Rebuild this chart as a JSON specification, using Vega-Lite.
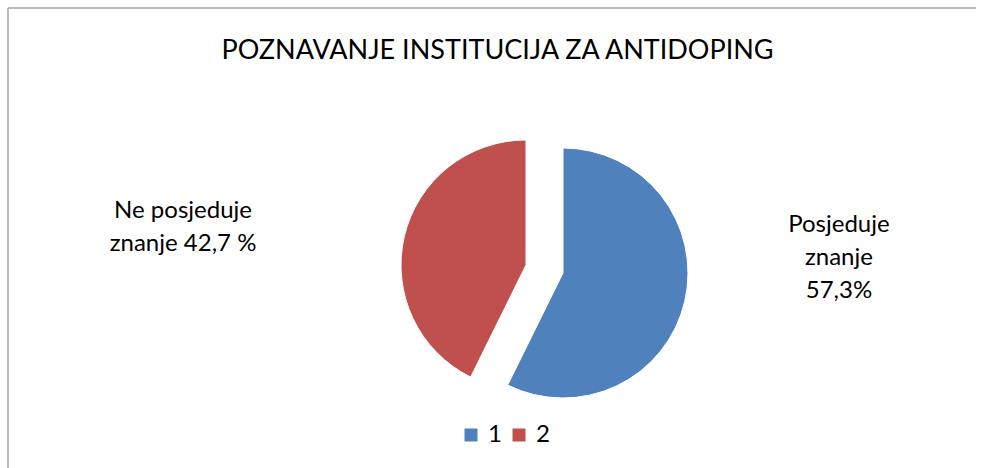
{
  "$schema": "https://vega.github.io/schema/vega-lite/v6.json",
  "autosize": {"type": "none"},
  "width": 973,
  "height": 460,
  "padding": {"left": 8, "top": 8, "right": 0, "bottom": 0},
  "background": "#ffffff",
  "title": {
    "text": "POZNAVANJE INSTITUCIJA ZA ANTIDOPING",
    "font": "Lato",
    "fontSize": 27,
    "fontWeight": "normal",
    "color": "#000000",
    "anchor": "middle",
    "baseline": "middle",
    "offset": 0,
    "dx": 3,
    "dy": 71
  },
  "data": {
    "values": [
      {"category": "1", "value": 57.3, "label": "Posjeduje\nznanje\n57,3%"},
      {"category": "2", "value": 42.7, "label": "Ne posjeduje\nznanje 42,7 %"}
    ]
  },
  "transform": [
    {"stack": "value", "groupby": [], "sort": [{"field": "category", "order": "ascending"}], "as": ["v0", "v1"]}
  ],
  "layer": [
    {
      "data": {"values": [{"frame": "chart"}]},
      "mark": {"type": "rect", "fill": null, "stroke": "#a6a6a6", "strokeWidth": 1.5, "strokeDash": [968, 1438, 460, 0]},
      "encoding": {}
    },
    {
      "transform": [{"filter": "datum.category === '1'"}],
      "mark": {"type": "arc", "radius": 125, "xOffset": 68.5, "yOffset": 35, "stroke": "#ffffff", "strokeWidth": 1},
      "encoding": {
        "theta": {"field": "v0", "type": "quantitative", "scale": {"domain": [0, 100]}},
        "theta2": {"field": "v1"},
        "color": {
          "field": "category",
          "type": "nominal",
          "scale": {"domain": ["1", "2"], "range": ["#4F81BD", "#C0504D"]},
          "legend": {
            "title": null,
            "orient": "none",
            "legendX": 451,
            "legendY": 415,
            "direction": "horizontal",
            "symbolType": "square",
            "symbolSize": 169,
            "symbolStrokeWidth": 0,
            "labelFont": "Lato",
            "labelFontSize": 24,
            "labelColor": "#000000",
            "labelOffset": 5,
            "columnPadding": 5,
            "padding": 0
          }
        }
      }
    },
    {
      "transform": [{"filter": "datum.category === '2'"}],
      "mark": {"type": "arc", "radius": 125, "xOffset": 31.5, "yOffset": 27, "stroke": "#ffffff", "strokeWidth": 1},
      "encoding": {
        "theta": {"field": "v0", "type": "quantitative", "scale": {"domain": [0, 100]}},
        "theta2": {"field": "v1"},
        "color": {"field": "category", "type": "nominal"}
      }
    },
    {
      "mark": {"type": "text", "font": "Lato", "fontSize": 24, "color": "#000000", "align": "center", "baseline": "middle", "lineBreak": "\n", "lineHeight": 33, "radius": 250, "xOffset": 50, "yOffset": 31, "dx": 51, "dy": -101},
      "encoding": {
        "theta": {"field": "value", "type": "quantitative", "stack": true},
        "order": {"field": "v0", "type": "quantitative", "sort": "ascending"},
        "detail": {"field": "category", "type": "nominal"},
        "text": {"condition": {"test": "datum.category === '1'", "field": "label", "type": "nominal"}, "value": ""}
      }
    },
    {
      "mark": {"type": "text", "font": "Lato", "fontSize": 24, "color": "#000000", "align": "center", "baseline": "middle", "lineBreak": "\n", "lineHeight": 33, "radius": 250, "xOffset": 50, "yOffset": 31, "dx": -118, "dy": -1},
      "encoding": {
        "theta": {"field": "value", "type": "quantitative", "stack": true},
        "order": {"field": "v0", "type": "quantitative", "sort": "ascending"},
        "detail": {"field": "category", "type": "nominal"},
        "text": {"condition": {"test": "datum.category === '2'", "field": "label", "type": "nominal"}, "value": ""}
      }
    }
  ],
  "config": {
    "view": {"stroke": null}
  }
}
